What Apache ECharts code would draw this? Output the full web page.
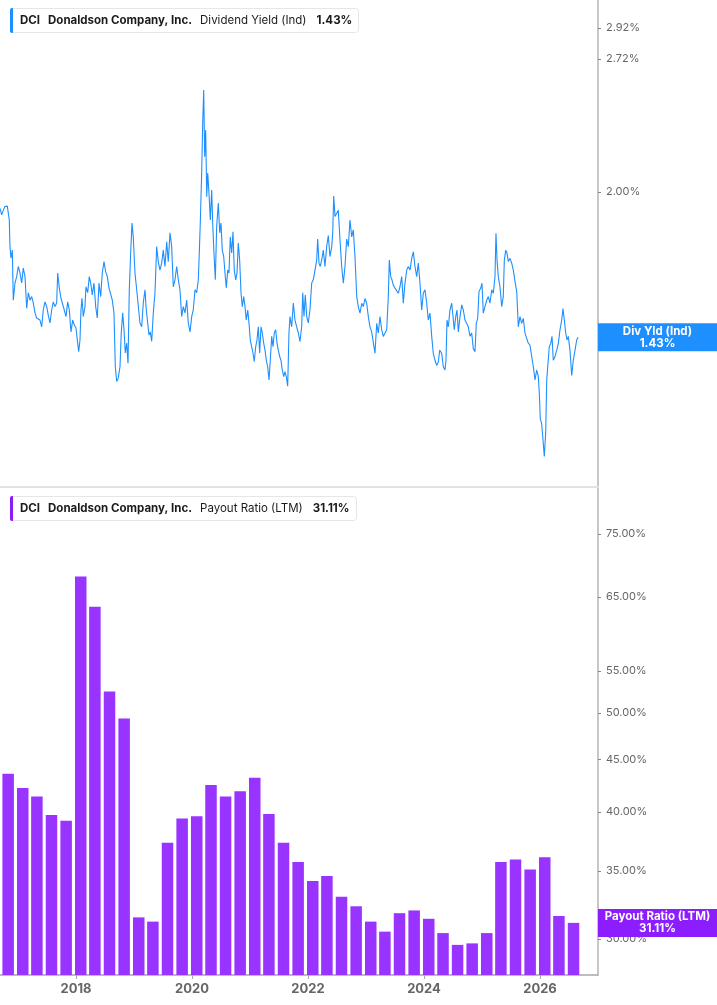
<!DOCTYPE html>
<html><head><meta charset="utf-8">
<script src="https://cdn.jsdelivr.net/npm/echarts@6/dist/echarts.min.js"></script>
<style>html,body{margin:0;padding:0;background:#fff}#c{width:717px;height:1005px}</style>
</head><body><div id="c"></div>
<script>
// Dividend yield (Ind), % — [decimal year, value]
const yieldPoints = [
[2016.690,1.926],[2016.719,1.897],[2016.747,1.918],[2016.776,1.934],[2016.816,1.936],[2016.833,1.941],[2016.850,1.875],[2016.862,1.763],[2016.879,1.717],[2016.902,1.749],
[2016.919,1.558],[2016.948,1.621],[2016.978,1.645],[2017.005,1.684],[2017.035,1.659],[2017.064,1.621],[2017.091,1.678],[2017.121,1.645],[2017.150,1.529],[2017.178,1.585],
[2017.207,1.558],[2017.236,1.571],[2017.264,1.548],[2017.293,1.513],[2017.322,1.495],[2017.350,1.500],[2017.379,1.488],[2017.409,1.465],[2017.436,1.523],[2017.466,1.552],
[2017.495,1.535],[2017.522,1.505],[2017.552,1.478],[2017.581,1.523],[2017.609,1.552],[2017.638,1.535],[2017.667,1.548],[2017.685,1.659],[2017.712,1.603],[2017.741,1.565],
[2017.771,1.558],[2017.798,1.523],[2017.828,1.500],[2017.857,1.552],[2017.885,1.523],[2017.914,1.448],[2017.943,1.488],[2017.971,1.471],[2018.000,1.461],[2018.029,1.411],
[2018.047,1.383],[2018.069,1.421],[2018.086,1.523],[2018.103,1.565],[2018.126,1.500],[2018.155,1.535],[2018.172,1.607],[2018.202,1.585],[2018.229,1.645],[2018.253,1.621],
[2018.281,1.577],[2018.310,1.621],[2018.340,1.535],[2018.367,1.495],[2018.397,1.621],[2018.426,1.571],[2018.453,1.659],[2018.483,1.703],[2018.512,1.664],[2018.540,1.645],
[2018.569,1.603],[2018.598,1.607],[2018.626,1.558],[2018.655,1.513],[2018.678,1.336],[2018.702,1.291],[2018.729,1.302],[2018.759,1.336],[2018.781,1.445],[2018.805,1.513],
[2018.828,1.455],[2018.850,1.379],[2018.874,1.411],[2018.897,1.347],[2018.919,1.596],[2018.943,1.737],[2018.966,1.862],[2018.988,1.803],[2019.017,1.659],[2019.047,1.596],
[2019.074,1.589],[2019.103,1.478],[2019.133,1.465],[2019.160,1.548],[2019.190,1.596],[2019.207,1.535],[2019.236,1.478],[2019.259,1.437],[2019.281,1.448],[2019.305,1.416],
[2019.333,1.513],[2019.362,1.585],[2019.391,1.763],[2019.419,1.703],[2019.448,1.670],[2019.478,1.698],[2019.505,1.749],[2019.534,1.684],[2019.564,1.783],[2019.591,1.703],
[2019.621,1.820],[2019.650,1.763],[2019.678,1.607],[2019.707,1.633],[2019.736,1.684],[2019.764,1.633],[2019.793,1.596],[2019.822,1.500],[2019.850,1.535],[2019.879,1.513],
[2019.909,1.558],[2019.936,1.478],[2019.966,1.448],[2019.995,1.500],[2020.022,1.523],[2020.052,1.596],[2020.081,1.585],[2020.109,1.633],[2020.126,1.737],[2020.143,1.862],
[2020.167,2.090],[2020.185,2.346],[2020.202,2.531],[2020.219,2.170],[2020.236,2.308],[2020.254,1.978],[2020.271,2.090],[2020.293,1.995],[2020.316,1.875],[2020.340,2.009],
[2020.357,1.862],[2020.379,1.737],[2020.402,1.633],[2020.426,1.849],[2020.454,1.950],[2020.478,1.820],[2020.500,1.862],[2020.522,1.749],[2020.547,1.723],[2020.569,1.659],
[2020.592,1.603],[2020.616,1.670],[2020.638,1.659],[2020.660,1.803],[2020.685,1.737],[2020.707,1.825],[2020.729,1.670],[2020.754,1.633],[2020.776,1.659],[2020.798,1.778],
[2020.822,1.709],[2020.845,1.585],[2020.867,1.535],[2020.892,1.571],[2020.914,1.535],[2020.936,1.488],[2020.961,1.523],[2020.983,1.478],[2021.005,1.421],[2021.029,1.399],
[2021.052,1.379],[2021.074,1.352],[2021.098,1.399],[2021.121,1.421],[2021.143,1.465],[2021.167,1.379],[2021.190,1.465],[2021.212,1.445],[2021.236,1.411],[2021.259,1.388],
[2021.281,1.356],[2021.305,1.336],[2021.328,1.296],[2021.350,1.356],[2021.374,1.433],[2021.397,1.399],[2021.419,1.445],[2021.443,1.455],[2021.466,1.411],[2021.488,1.388],
[2021.512,1.368],[2021.534,1.356],[2021.557,1.326],[2021.581,1.306],[2021.604,1.321],[2021.626,1.306],[2021.650,1.277],[2021.672,1.445],[2021.690,1.500],[2021.719,1.465],
[2021.747,1.548],[2021.776,1.488],[2021.805,1.465],[2021.833,1.445],[2021.862,1.416],[2021.891,1.465],[2021.909,1.585],[2021.931,1.500],[2021.953,1.577],[2021.978,1.500],
[2022.005,1.478],[2022.034,1.523],[2022.064,1.621],[2022.091,1.633],[2022.121,1.670],[2022.150,1.709],[2022.167,1.794],[2022.190,1.697],[2022.212,1.684],[2022.236,1.709],
[2022.264,1.749],[2022.293,1.684],[2022.322,1.763],[2022.350,1.809],[2022.379,1.723],[2022.409,1.763],[2022.426,1.818],[2022.443,1.982],[2022.466,1.890],[2022.495,1.904],
[2022.522,1.918],[2022.552,1.791],[2022.581,1.684],[2022.609,1.620],[2022.638,1.684],[2022.667,1.794],[2022.695,1.763],[2022.724,1.875],[2022.754,1.803],[2022.781,1.833],
[2022.810,1.723],[2022.840,1.571],[2022.867,1.535],[2022.897,1.512],[2022.926,1.547],[2022.954,1.535],[2022.983,1.564],[2023.012,1.547],[2023.040,1.500],[2023.069,1.465],
[2023.098,1.448],[2023.126,1.444],[2023.155,1.378],[2023.185,1.477],[2023.212,1.444],[2023.241,1.500],[2023.271,1.455],[2023.298,1.433],[2023.328,1.444],[2023.357,1.455],
[2023.385,1.571],[2023.402,1.709],[2023.426,1.645],[2023.448,1.633],[2023.471,1.613],[2023.500,1.602],[2023.529,1.607],[2023.557,1.583],[2023.586,1.607],[2023.616,1.645],
[2023.643,1.547],[2023.672,1.620],[2023.702,1.670],[2023.729,1.684],[2023.759,1.670],[2023.788,1.716],[2023.816,1.742],[2023.845,1.684],[2023.874,1.645],[2023.902,1.697],
[2023.931,1.620],[2023.960,1.523],[2023.988,1.583],[2024.017,1.596],[2024.047,1.547],[2024.074,1.488],[2024.103,1.512],[2024.133,1.433],[2024.160,1.378],[2024.190,1.356],
[2024.219,1.340],[2024.247,1.351],[2024.271,1.388],[2024.305,1.378],[2024.333,1.336],[2024.362,1.326],[2024.379,1.356],[2024.397,1.488],[2024.419,1.465],[2024.448,1.523],
[2024.478,1.547],[2024.500,1.552],[2024.522,1.455],[2024.547,1.500],[2024.569,1.523],[2024.592,1.448],[2024.621,1.500],[2024.650,1.541],[2024.678,1.523],[2024.707,1.488],
[2024.736,1.477],[2024.764,1.465],[2024.793,1.433],[2024.822,1.444],[2024.850,1.393],[2024.879,1.383],[2024.902,1.477],[2024.926,1.494],[2024.948,1.589],[2024.978,1.602],
[2025.000,1.620],[2025.022,1.512],[2025.052,1.535],[2025.081,1.558],[2025.109,1.571],[2025.138,1.547],[2025.167,1.596],[2025.195,1.583],[2025.224,1.645],[2025.241,1.818],
[2025.259,1.709],[2025.281,1.645],[2025.310,1.607],[2025.340,1.535],[2025.367,1.571],[2025.385,1.709],[2025.409,1.749],[2025.431,1.736],[2025.454,1.703],[2025.483,1.716],
[2025.512,1.697],[2025.540,1.670],[2025.569,1.626],[2025.599,1.589],[2025.626,1.465],[2025.655,1.500],[2025.684,1.477],[2025.712,1.494],[2025.741,1.444],[2025.771,1.438],
[2025.798,1.411],[2025.828,1.404],[2025.857,1.368],[2025.885,1.336],[2025.914,1.296],[2025.943,1.326],[2025.971,1.306],[2025.988,1.257],[2026.005,1.185],[2026.029,1.171],
[2026.052,1.128],[2026.074,1.086],[2026.098,1.146],[2026.116,1.296],[2026.138,1.347],[2026.160,1.399],[2026.185,1.410],[2026.207,1.433],[2026.229,1.356],[2026.259,1.368],
[2026.288,1.388],[2026.316,1.410],[2026.345,1.455],[2026.374,1.488],[2026.397,1.528],[2026.419,1.488],[2026.443,1.444],[2026.466,1.421],[2026.488,1.433],[2026.517,1.388],
[2026.547,1.309],[2026.574,1.356],[2026.604,1.388],[2026.633,1.421],[2026.655,1.430]
];

// Payout ratio (LTM), % — fiscal quarter ends
const payoutDates = [
'2016-10-31','2017-01-31','2017-04-30','2017-07-31','2017-10-31','2018-01-31','2018-04-30','2018-07-31',
'2018-10-31','2019-01-31','2019-04-30','2019-07-31','2019-10-31','2020-01-31','2020-04-30','2020-07-31',
'2020-10-31','2021-01-31','2021-04-30','2021-07-31','2021-10-31','2022-01-31','2022-04-30','2022-07-31',
'2022-10-31','2023-01-31','2023-04-30','2023-07-31','2023-10-31','2024-01-31','2024-04-30','2024-07-31',
'2024-10-31','2025-01-31','2025-04-30','2025-07-31','2025-10-31','2026-01-31','2026-04-30','2026-07-31'
];
const payoutValues = [
43.6,42.2,41.4,39.7,39.2,68.1,63.6,52.5,
49.4,31.5,31.2,37.3,39.4,39.6,42.5,41.4,
41.9,43.2,39.8,37.3,35.7,34.2,34.6,33.0,
32.3,31.2,30.5,31.8,32.0,31.4,30.4,29.6,
29.7,30.4,35.7,35.9,35.1,36.1,31.6,31.11
];

const yieldTicks = [2.00, 2.72, 2.92];
const payoutTicks = [30, 35, 40, 45, 50, 55, 65, 75];
const yearTicks = [2018, 2020, 2022, 2024, 2026];

function toYear(s) {
  const p = s.split('-').map(Number);
  const start = Date.UTC(p[0], 0, 1), end = Date.UTC(p[0] + 1, 0, 1);
  return p[0] + (Date.UTC(p[0], p[1] - 1, p[2]) - start) / (end - start);
}

const FONT = 'Inter, "Noto Sans", "DejaVu Sans", sans-serif';
const BLUE = '#1e8fff', PURPLE = '#9933ff', PURPLE_LBL = '#8c1dff';
const lastYield = yieldPoints[yieldPoints.length - 1][1];
const lastPayout = payoutValues[payoutValues.length - 1];
const X_MIN = 2016.69, X_MAX = 2027.0;

function legendTitle(top, metric, val) {
  const base = {fontFamily: FONT, fontSize: 11.5, color: '#1a1a1a', lineHeight: 13};
  return {
    left: 10, top: top,
    text: '{a|DCI}{b|Donaldson Company, Inc.}{c|' + metric + '}{d|' + val + '}',
    backgroundColor: '#fff', borderColor: '#e6e6e6', borderWidth: 1, borderRadius: 3,
    padding: [6, 7, 6, 10],
    textStyle: {
      fontFamily: FONT,
      rich: {
        a: Object.assign({}, base, {fontWeight: 'bold', padding: [0, 8, 0, 0]}),
        b: Object.assign({}, base, {fontWeight: 'bold', padding: [0, 8, 0, 0]}),
        c: Object.assign({}, base, {fontWeight: 'normal', padding: [0, 10, 0, 0]}),
        d: Object.assign({}, base, {fontWeight: 'bold'})
      }
    }
  };
}

function endLabel(l1, l2, bg) {
  return {
    silent: true, animation: false, symbol: ['none', 'none'],
    lineStyle: {color: 'rgba(0,0,0,0)', width: 0},
    label: {
      show: true, position: 'end', distance: 0,
      formatter: '{t|' + l1 + '}\n{t|' + l2 + '}',
      backgroundColor: bg, padding: [2, 0, 2, 0], width: 119,
      rich: {t: {fontFamily: FONT, color: '#fff', fontWeight: 'bold', fontSize: 11.5, lineHeight: 12, align: 'center'}}
    }
  };
}

const chart = echarts.init(document.getElementById('c'));
const yieldLabel = endLabel('Div Yld (Ind)', lastYield.toFixed(2) + '%', BLUE);
yieldLabel.data = [{yAxis: lastYield}];
const payoutLabel = endLabel('Payout Ratio (LTM)', lastPayout.toFixed(2) + '%', PURPLE_LBL);
payoutLabel.data = [{yAxis: lastPayout}];

chart.setOption({
  animation: false,
  backgroundColor: '#fff',
  textStyle: {fontFamily: FONT},
  title: [legendTitle(8, 'Dividend Yield (Ind)', lastYield.toFixed(2) + '%'),
          legendTitle(496, 'Payout Ratio (LTM)', lastPayout.toFixed(2) + '%')],
  graphic: [
    {type: 'rect', left: 10, top: 8, z: 100, shape: {width: 3, height: 25, r: [2, 0, 0, 2]}, style: {fill: BLUE}},
    {type: 'rect', left: 10, top: 496, z: 100, shape: {width: 3, height: 25, r: [2, 0, 0, 2]}, style: {fill: '#8a1cf5'}}
  ],
  grid: [
    {left: 0, right: 119, top: 0, height: 487},
    {left: 0, right: 119, top: 487, bottom: 30}
  ],
  xAxis: [
    {gridIndex: 0, type: 'value', min: X_MIN, max: X_MAX,
     axisLine: {show: true, onZero: false, lineStyle: {color: '#e2e2e2', width: 2}},
     axisTick: {show: false}, axisLabel: {show: false}, splitLine: {show: false}},
    {gridIndex: 1, type: 'value', min: X_MIN, max: X_MAX,
     axisLine: {show: true, onZero: false, lineStyle: {color: '#a8a8a8', width: 1.5}},
     axisTick: {show: true, customValues: yearTicks, length: 4, lineStyle: {color: '#a8a8a8'}},
     axisLabel: {customValues: yearTicks, formatter: v => String(Math.round(v)), color: '#666', fontWeight: 'bold', fontSize: 13, margin: 8, fontFamily: FONT},
     splitLine: {show: false}}
  ],
  yAxis: [
    {gridIndex: 0, type: 'log', position: 'right', min: 1.012, max: 3.116,
     axisLine: {show: true, lineStyle: {color: '#b4b4b4', width: 1.5}},
     axisTick: {show: true, customValues: yieldTicks, length: 3, lineStyle: {color: '#888'}},
     axisLabel: {customValues: yieldTicks, formatter: v => v.toFixed(2) + '%', color: '#666', fontSize: 11, margin: 8, fontFamily: FONT},
     splitLine: {show: false}},
    {gridIndex: 1, type: 'log', position: 'right', min: 27.65, max: 83.4, startValue: 27.65,
     axisLine: {show: true, lineStyle: {color: '#b4b4b4', width: 1.5}},
     axisTick: {show: true, customValues: payoutTicks, length: 3, lineStyle: {color: '#888'}},
     axisLabel: {customValues: payoutTicks, formatter: v => v.toFixed(2) + '%', color: '#666', fontSize: 11, margin: 8, fontFamily: FONT},
     splitLine: {show: false}}
  ],
  series: [
    {type: 'line', xAxisIndex: 0, yAxisIndex: 0, data: yieldPoints, showSymbol: false, symbol: 'none',
     lineStyle: {color: BLUE, width: 1.1}, z: 3, markLine: yieldLabel},
    {type: 'bar', xAxisIndex: 1, yAxisIndex: 1, clip: true,
     data: payoutDates.map((d, i) => [toYear(d), payoutValues[i]]),
     barWidth: 11.5, itemStyle: {color: PURPLE}, z: 3, markLine: payoutLabel}
  ]
});
</script></body></html>
